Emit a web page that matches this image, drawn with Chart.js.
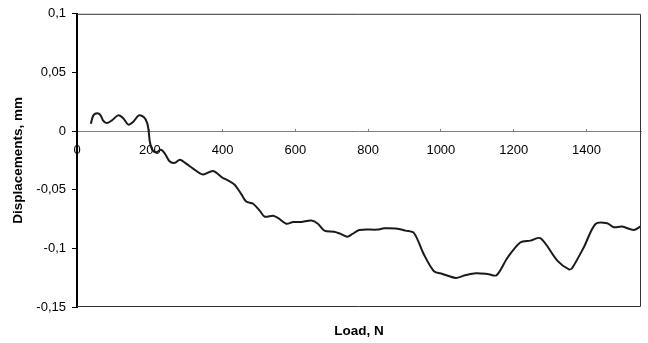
<!DOCTYPE html>
<html>
<head>
<meta charset="utf-8">
<script src="https://cdn.jsdelivr.net/npm/chart.js@4"></script>
<style>
  body { margin: 0; background: #fff; }
  canvas { display: block; }
</style>
</head>
<body>
<canvas id="loadChart" width="648" height="343"></canvas>
<script>
// load (N) and displacement (mm)
const loads = [38, 45, 56, 65, 72, 81, 95, 113, 127, 141, 154, 170, 184, 193, 197, 200,
  207, 219, 230, 241, 255, 269, 283, 301, 319, 346, 374, 401, 411, 433, 452, 465, 484,
  502, 516, 539, 552, 575, 594, 616, 644, 662, 680, 707, 725, 743, 757, 776, 826, 844,
  876, 903, 926, 953, 981, 1004, 1041, 1064, 1096, 1128, 1153, 1183, 1219, 1246, 1274,
  1320, 1352, 1361, 1393, 1425, 1457, 1475, 1498, 1530, 1548];
const displacements = [0.0063, 0.0134, 0.0151, 0.0134, 0.0089, 0.0068, 0.0089, 0.0134,
  0.011, 0.0055, 0.0077, 0.0134, 0.0117, 0.0068, 0, -0.0088,
  -0.016, -0.018, -0.016, -0.019, -0.026, -0.027, -0.0244, -0.028, -0.032, -0.037, -0.034,
  -0.040, -0.0414, -0.0457, -0.054, -0.060, -0.062, -0.0678, -0.073, -0.0722, -0.074,
  -0.079, -0.0775, -0.0775, -0.0763, -0.079, -0.0849, -0.0858, -0.0877, -0.090, -0.0877,
  -0.0843, -0.084, -0.0829, -0.0831, -0.0849, -0.0869, -0.105, -0.1195, -0.1218, -0.1252,
  -0.1232, -0.1212, -0.1218, -0.1229, -0.108, -0.0948, -0.0934, -0.0914, -0.1104, -0.118,
  -0.1167, -0.099, -0.0792, -0.0786, -0.082, -0.0814, -0.0843, -0.0814];
const yTicks = [-0.15, -0.1, -0.05, 0, 0.05, 0.1];

Chart.defaults.font.family = '"Liberation Sans", Arial, sans-serif';
Chart.defaults.color = '#000';

// frame around the plot area (top, right, bottom)
const frame = {
  id: 'frame',
  beforeDatasetsDraw(chart) {
    const { ctx, chartArea: a } = chart;
    ctx.save();
    ctx.strokeStyle = '#333';
    ctx.lineWidth = 1;
    ctx.beginPath();
    ctx.moveTo(a.left, a.top + 0.5);
    ctx.lineTo(a.right - 0.5, a.top + 0.5);
    ctx.lineTo(a.right - 0.5, a.bottom - 0.5);
    ctx.lineTo(a.left, a.bottom - 0.5);
    ctx.stroke();
    ctx.restore();
  }
};

const pts = loads.map((x, i) => ({ x: x, y: displacements[i] }));

new Chart(document.getElementById('loadChart'), {
  type: 'line',
  data: {
    datasets: [{
      data: pts,
      borderColor: '#1a1a1a',
      borderWidth: 2,
      pointRadius: 0,
      tension: 0.3,
      fill: false
    }]
  },
  options: {
    responsive: false,
    animation: false,
    layout: { padding: { left: 6, right: 7, top: 13, bottom: 0 } },
    plugins: {
      legend: { display: false },
      tooltip: { enabled: false }
    },
    scales: {
      x: {
        type: 'linear',
        min: 0,
        max: 1550,
        position: { y: 0 },
        ticks: { stepSize: 200, includeBounds: false, padding: 15, font: { size: 13 }, callback: v => String(v) },
        grid: { drawOnChartArea: false, drawTicks: true, tickLength: -3, color: '#808080' },
        border: { color: '#808080', width: 1 }
      },
      xt: {
        type: 'linear',
        position: 'bottom',
        min: 0,
        max: 1,
        ticks: { display: false },
        grid: { display: false },
        border: { display: false },
        title: { display: true, text: 'Load, N', font: { size: 13.5, weight: 'bold' }, padding: { top: 0, bottom: 4 } },
        afterFit(scale) { scale.height = 36; }
      },
      y: {
        min: -0.15,
        max: 0.1,
        afterBuildTicks(scale) { scale.ticks = yTicks.map(v => ({ value: v })); },
        ticks: {
          padding: 6,
          font: { size: 13 },
          callback: v => String(Math.round(v * 100) / 100).replace('.', ',')
        },
        grid: { drawOnChartArea: false, drawTicks: true, tickLength: 5, color: '#000' },
        border: { color: '#000', width: 2 },
        title: { display: true, text: 'Displacements, mm', font: { size: 13.5, weight: 'bold' }, padding: { top: 4, bottom: 4 } },
        afterFit(scale) { scale.width = 71; }
      }
    }
  },
  plugins: [frame]
});
</script>
</body>
</html>
